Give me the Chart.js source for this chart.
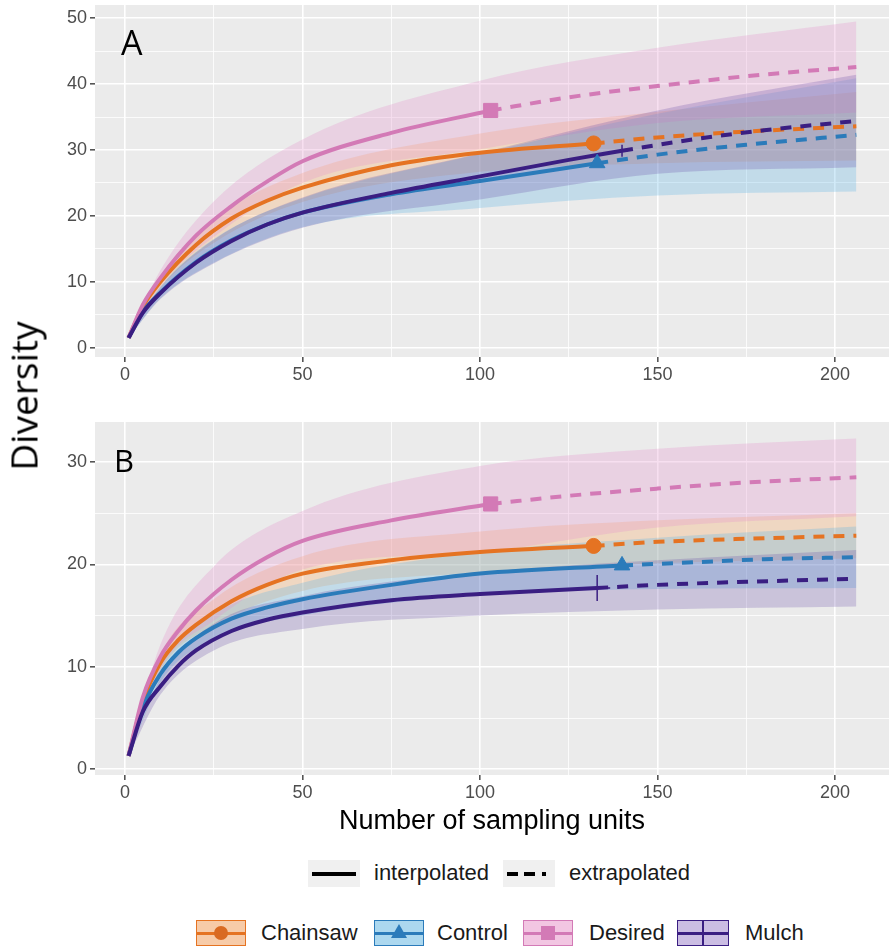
<!DOCTYPE html>
<html lang="en">
<head>
<meta charset="UTF-8">
<title>Diversity – rarefaction curves</title>
<style>
  body { margin: 0; background: #fff; width: 889px; height: 947px; position: relative; overflow: hidden;
         font-family: "Liberation Sans", Arial, sans-serif; }
  canvas { position: absolute; left: 0; }
  #chartA { top: 0; }
  #chartB { top: 400px; }
  .txt { position: absolute; line-height: 1; white-space: nowrap; color: #000; }
  .panel { font-family: "Open Sans", sans-serif; }
  .leg { font-size: 22px; color: #1a1a1a; }
  .key { position: absolute; box-sizing: border-box; }
  .key .ln { position: absolute; left: 0; right: 0; top: 50%; height: 3px; margin-top: -1.5px; }
  .key .mk { position: absolute; left: 50%; top: 50%; }
</style>
</head>
<body>

<canvas id="chartA" width="889" height="395"></canvas>
<canvas id="chartB" width="889" height="410"></canvas>

<div class="txt panel" style="left:121px; top:25px; font-size:34px;">A</div>
<div class="txt panel" style="left:114px; top:445px; font-size:31px;">B</div>
<div class="txt panel" style="left:23px; top:396px; font-size:37px; transform: translate(-50%, -50%) rotate(-90deg);">Diversity</div>
<div class="txt" style="left:492px; top:807px; font-size:27px; transform: translateX(-50%);">Number of sampling units</div>

<!-- line type legend -->
<div class="key" style="left:308px; top:860px; width:52px; height:27px; background:#f0f0f0;">
  <div style="position:absolute; left:4px; right:4px; top:12px; height:4px; background:#000;"></div>
</div>
<div class="txt leg" style="left:374px; top:862px;">interpolated</div>
<div class="key" style="left:503px; top:860px; width:52px; height:27px; background:#f0f0f0;">
  <div style="position:absolute; left:4px; width:11px; top:12px; height:4px; background:#000;"></div>
  <div style="position:absolute; left:21px; width:11px; top:12px; height:4px; background:#000;"></div>
  <div style="position:absolute; left:39px; width:4px; top:12px; height:4px; background:#000;"></div>
</div>
<div class="txt leg" style="left:569px; top:862px;">extrapolated</div>

<!-- treatment legend -->
<div class="key" style="left:196px; top:920px; width:50px; height:26px; background:#f7cba8; border:1.5px solid #e57322;">
  <div class="ln" style="background:#e57322;"></div>
  <div class="mk" style="width:14px; height:14px; margin:-7px 0 0 -7px; border-radius:50%; background:#d96a22;"></div>
</div>
<div class="txt leg" style="left:261px; top:922px;">Chainsaw</div>
<div class="key" style="left:374px; top:920px; width:50px; height:26px; background:#acd8ef; border:1.5px solid #2b7bba;">
  <div class="ln" style="background:#2b7bba;"></div>
  <div class="mk" style="width:0; height:0; margin:-9px 0 0 -8px; border-left:8px solid transparent; border-right:8px solid transparent; border-bottom:14px solid #2b7bba;"></div>
</div>
<div class="txt leg" style="left:437px; top:922px;">Control</div>
<div class="key" style="left:523px; top:920px; width:50px; height:26px; background:#f2c6e2; border:1.5px solid #d37ab6;">
  <div class="ln" style="background:#d37ab6;"></div>
  <div class="mk" style="width:14px; height:14px; margin:-7px 0 0 -7px; background:#d37ab6;"></div>
</div>
<div class="txt leg" style="left:589px; top:922px;">Desired</div>
<div class="key" style="left:677px; top:920px; width:52px; height:26px; background:#cbbde3; border:1.5px solid #3a1e82;">
  <div class="ln" style="background:#3a1e82;"></div>
  <div class="mk" style="width:2px; height:26px; margin:-13px 0 0 -1px; background:#3a1e82;"></div>
</div>
<div class="txt leg" style="left:745px; top:922px;">Mulch</div>

<script src="https://cdn.jsdelivr.net/npm/chart.js"></script>
<script>
// axis ticks
const xTicks = [0, 25, 50, 75, 100, 125, 150, 175, 200];
const yTicksA = [0, 5, 10, 15, 20, 25, 30, 35, 40, 45, 50];
const yTicksB = [0, 5, 10, 15, 20, 25, 30];

// x positions of the confidence band edges
const bandX = [1, 10, 25, 50, 100, 150, 206];

// ---- Panel A ----
const aChainsawX = [1, 5, 10, 20, 30, 40, 50, 75, 100, 132];
const aChainsawY = [1.5, 6.2, 10, 15.6, 19.6, 22.3, 24.3, 27.7, 29.6, 31.0];
const aChainsawExtX = [132, 150, 175, 206];
const aChainsawExtY = [31.0, 31.9, 32.8, 33.6];
const aChainsawLo = [1.5, 9.1, 15.9, 22.1, 26.7, 28.0, 28.4];
const aChainsawHi = [1.5, 10.9, 19.5, 26.5, 32.5, 35.8, 38.8];

const aControlX = [1, 5, 10, 20, 30, 40, 50, 75, 100, 133];
const aControlY = [1.5, 5.4, 8.4, 13, 16.3, 18.7, 20.5, 23.3, 25.3, 28.0];
const aControlExtX = [133, 150, 175, 206];
const aControlExtY = [28.0, 29.3, 30.8, 32.3];
const aControlLo = [1.5, 7.5, 12.9, 18.3, 21.2, 23.1, 23.7];
const aControlHi = [1.5, 9.3, 16.5, 22.7, 29.4, 35.5, 40.9];

const aDesiredX = [1, 5, 10, 20, 30, 40, 50, 75, 103];
const aDesiredY = [1.5, 6.5, 10.6, 17, 21.5, 25.2, 28.3, 32.6, 36.0];
const aDesiredExtX = [103, 125, 150, 175, 206];
const aDesiredExtY = [36.0, 38.0, 39.7, 41.2, 42.6];
const aDesiredLo = [1.5, 9.4, 16.8, 25.0, 30.1, 34.1, 35.7];
const aDesiredHi = [1.5, 11.8, 22.2, 31.6, 40.5, 45.5, 49.5];

const aMulchX = [1, 5, 10, 20, 30, 40, 50, 75, 100, 125, 140];
const aMulchY = [1.5, 5.3, 8.3, 12.9, 16.2, 18.7, 20.5, 23.5, 26.0, 28.5, 29.9];
const aMulchExtX = [140, 160, 180, 206];
const aMulchExtY = [29.9, 31.6, 33.0, 34.4];
const aMulchLo = [1.5, 7.4, 12.8, 18.2, 22.5, 26.4, 27.4];
const aMulchHi = [1.5, 9.2, 16.4, 22.8, 29.5, 36.0, 41.4];

// ---- Panel B ----
const bChainsawX = [1, 5, 10, 15, 20, 30, 40, 50, 75, 100, 132];
const bChainsawY = [1.3, 6.6, 10.4, 12.6, 14.1, 16.4, 18, 19.1, 20.4, 21.2, 21.8];
const bChainsawExtX = [132, 150, 175, 206];
const bChainsawExtY = [21.8, 22.2, 22.5, 22.8];
const bChainsawLo = [1.3, 9.6, 14.0, 17.4, 19.2, 20.1, 20.6];
const bChainsawHi = [1.3, 11.2, 16.6, 20.8, 23.2, 24.3, 25.0];

const bControlX = [1, 5, 10, 15, 20, 30, 40, 50, 75, 100, 140];
const bControlY = [1.3, 6.0, 9.3, 11.4, 12.8, 14.7, 15.8, 16.6, 18.0, 19.1, 19.9];
const bControlExtX = [140, 160, 180, 206];
const bControlExtY = [19.9, 20.2, 20.5, 20.7];
const bControlLo = [1.3, 8.5, 12.7, 15.0, 17.0, 17.6, 17.7];
const bControlHi = [1.3, 10.1, 15.1, 18.2, 21.2, 22.6, 23.7];

const bDesiredX = [1, 5, 10, 15, 20, 30, 40, 50, 75, 103];
const bDesiredY = [1.3, 7, 11, 13.5, 15.5, 18.5, 20.7, 22.3, 24.3, 25.9];
const bDesiredExtX = [103, 125, 150, 175, 206];
const bDesiredExtY = [25.9, 26.7, 27.4, 28.0, 28.5];
const bDesiredLo = [1.3, 9.8, 14.5, 19.5, 21.2, 23.6, 24.7];
const bDesiredHi = [1.3, 12.2, 19.8, 25.2, 29.6, 31.3, 32.3];

const bMulchX = [1, 5, 10, 15, 20, 30, 40, 50, 75, 100, 133];
const bMulchY = [1.3, 5.6, 8.1, 10.1, 11.6, 13.5, 14.6, 15.3, 16.5, 17.1, 17.7];
const bMulchExtX = [133, 150, 175, 206];
const bMulchExtY = [17.7, 18.0, 18.3, 18.6];
const bMulchLo = [1.3, 7.3, 11.6, 13.7, 15.0, 15.6, 15.9];
const bMulchHi = [1.3, 8.9, 14.2, 16.9, 19.2, 20.4, 21.4];

// colours
const colChainsaw = '#e57322', bandChainsaw = 'rgba(250,165,90,0.28)';
const colControl = '#2b7bba', bandControl = 'rgba(90,180,230,0.28)';
const colDesired = '#d37ab6', bandDesired = 'rgba(230,150,205,0.30)';
const colMulch = '#3a1e82', bandMulch = 'rgba(95,65,165,0.24)';

function pts(xs, ys) {
    return xs.map((x, i) => ({ x: x, y: ys[i] }));
}

// grey panel background like ggplot
const panelBg = {
    id: 'panelBg',
    beforeDraw(chart) {
        const { ctx, chartArea: a } = chart;
        ctx.save();
        ctx.fillStyle = '#ebebeb';
        ctx.fillRect(a.left, a.top, a.right - a.left, a.bottom - a.top);
        ctx.restore();
    }
};

function buildDatasets(list) {
    const ds = [];
    list.forEach((s, k) => {
        const lowIdx = ds.length;
        ds.push({ data: pts(bandX, s.lo), borderWidth: 0, pointRadius: 0, fill: false,
                  cubicInterpolationMode: 'monotone', order: 30 - k });
        ds.push({ data: pts(bandX, s.hi), borderWidth: 0, pointRadius: 0, fill: { target: lowIdx },
                  backgroundColor: s.band, cubicInterpolationMode: 'monotone', order: 30 - k });
    });
    list.forEach((s, k) => {
        ds.push({ data: pts(s.ex, s.ey), borderColor: s.color, borderWidth: 4, borderDash: [11, 9],
                  pointRadius: 0, fill: false, cubicInterpolationMode: 'monotone', order: 10 - k });
        ds.push({ data: pts(s.ix, s.iy), borderColor: s.color, borderWidth: 4,
                  pointRadius: 0, fill: false, cubicInterpolationMode: 'monotone', order: 5 - k });
        const last = s.ix.length - 1;
        ds.push({ data: [{ x: s.ix[last], y: s.iy[last] }], showLine: false,
                  pointStyle: s.marker, pointRadius: s.radius,
                  pointBackgroundColor: s.color, pointBorderColor: s.color,
                  pointBorderWidth: s.marker === 'cross' ? 1.5 : 1, order: 0 });
    });
    return ds;
}

function makeChart(id, list, yTicks, yMin, yMax, padTop, xAxisH) {
    const ctx = document.getElementById(id).getContext('2d');
    return new Chart(ctx, {
        type: 'line',
        data: { datasets: buildDatasets(list) },
        plugins: [panelBg],
        options: {
            responsive: false,
            devicePixelRatio: 1,
            animation: false,
            events: [],
            layout: { autoPadding: false, padding: { top: padTop, left: 0, right: 0, bottom: 0 } },
            plugins: { legend: { display: false }, tooltip: { enabled: false } },
            scales: {
                x: {
                    type: 'linear',
                    min: -8.45,
                    max: 215.2,
                    afterBuildTicks: (s) => { s.ticks = xTicks.map(v => ({ value: v })); },
                    afterFit: (s) => { s.height = xAxisH; s.paddingLeft = 0; s.paddingRight = 0; },
                    border: { display: false },
                    grid: {
                        color: '#ffffff',
                        lineWidth: (c) => (c.tick && c.tick.value % 50 === 0) ? 1.6 : 0.8,
                        tickColor: (c) => (c.tick && c.tick.value % 50 === 0) ? '#555555' : 'rgba(0,0,0,0)',
                        tickLength: 5
                    },
                    ticks: {
                        autoSkip: false,
                        maxRotation: 0,
                        padding: 2,
                        color: '#4d4d4d',
                        font: { family: '"Liberation Sans", Arial, sans-serif', size: 18 },
                        callback: (v) => v % 50 === 0 ? String(v) : ''
                    }
                },
                y: {
                    type: 'linear',
                    min: yMin,
                    max: yMax,
                    afterBuildTicks: (s) => { s.ticks = yTicks.map(v => ({ value: v })); },
                    afterFit: (s) => { s.width = 95; s.paddingTop = 0; s.paddingBottom = 0; },
                    border: { display: false },
                    grid: {
                        color: '#ffffff',
                        lineWidth: (c) => (c.tick && c.tick.value % 10 === 0) ? 1.6 : 0.8,
                        tickColor: (c) => (c.tick && c.tick.value % 10 === 0) ? '#555555' : 'rgba(0,0,0,0)',
                        tickLength: 5
                    },
                    ticks: {
                        autoSkip: false,
                        padding: 3,
                        color: '#4d4d4d',
                        font: { family: '"Liberation Sans", Arial, sans-serif', size: 18 },
                        callback: (v) => v % 10 === 0 ? String(v) : ''
                    }
                }
            }
        }
    });
}

const seriesA = [
    { color: colChainsaw, band: bandChainsaw, marker: 'circle', radius: 7.5,
      ix: aChainsawX, iy: aChainsawY, ex: aChainsawExtX, ey: aChainsawExtY, lo: aChainsawLo, hi: aChainsawHi },
    { color: colControl, band: bandControl, marker: 'triangle', radius: 9,
      ix: aControlX, iy: aControlY, ex: aControlExtX, ey: aControlExtY, lo: aControlLo, hi: aControlHi },
    { color: colDesired, band: bandDesired, marker: 'rect', radius: 10,
      ix: aDesiredX, iy: aDesiredY, ex: aDesiredExtX, ey: aDesiredExtY, lo: aDesiredLo, hi: aDesiredHi },
    { color: colMulch, band: bandMulch, marker: 'cross', radius: 6,
      ix: aMulchX, iy: aMulchY, ex: aMulchExtX, ey: aMulchExtY, lo: aMulchLo, hi: aMulchHi }
];

const seriesB = [
    { color: colChainsaw, band: bandChainsaw, marker: 'circle', radius: 7.5,
      ix: bChainsawX, iy: bChainsawY, ex: bChainsawExtX, ey: bChainsawExtY, lo: bChainsawLo, hi: bChainsawHi },
    { color: colControl, band: bandControl, marker: 'triangle', radius: 9,
      ix: bControlX, iy: bControlY, ex: bControlExtX, ey: bControlExtY, lo: bControlLo, hi: bControlHi },
    { color: colDesired, band: bandDesired, marker: 'rect', radius: 10,
      ix: bDesiredX, iy: bDesiredY, ex: bDesiredExtX, ey: bDesiredExtY, lo: bDesiredLo, hi: bDesiredHi },
    { color: colMulch, band: bandMulch, marker: 'cross', radius: 13,
      ix: bMulchX, iy: bMulchY, ex: bMulchExtX, ey: bMulchExtY, lo: bMulchLo, hi: bMulchHi }
];

makeChart('chartA', seriesA, yTicksA, -1.4, 52.0, 5, 38);
makeChart('chartB', seriesB, yTicksB, -0.56, 33.9, 22, 35);
</script>
</body>
</html>
